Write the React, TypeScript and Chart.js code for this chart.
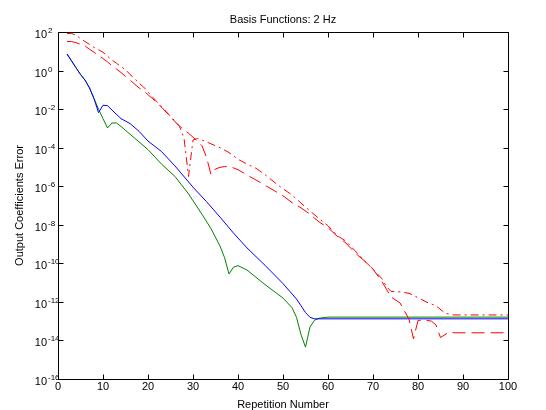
import React, { useEffect, useRef } from "react";
import { Chart, registerables } from "chart.js";

Chart.register(...registerables);

// ---------- data ----------
const TITLE = "Basis Functions: 2 Hz";
const X_LABEL = "Repetition Number";
const Y_LABEL = "Output Coefficients Error";

const X_TICKS = [0, 10, 20, 30, 40, 50, 60, 70, 80, 90, 100];
const Y_TICK_VALUES = [1e2, 1e0, 1e-2, 1e-4, 1e-6, 1e-8, 1e-10, 1e-12, 1e-14, 1e-16];
const Y_TICK_EXPONENTS = ["2", "0", "-2", "-4", "-6", "-8", "-10", "-12", "-14", "-16"];

// red dash-dot series
const redDashDotX = [2, 3, 4, 5, 6, 7, 8, 9, 10, 11, 12, 13, 14, 15, 16, 17, 18, 19, 20, 21, 22, 23, 24, 25, 26, 27, 28, 29, 30, 31, 32, 34, 36, 38, 40, 42, 44, 46, 48, 50, 52, 54, 56, 58, 60, 62, 64, 66, 68, 70, 72, 73, 74, 76, 78, 80, 82, 84, 86, 88, 100];
const redDashDotY = [83, 83, 71, 45, 32, 23, 15.8, 12, 8.9, 5.6, 3.5, 2.4, 1.58, 1.12, 0.63, 0.4, 0.224, 0.141, 0.079, 0.042, 0.024, 0.0132, 0.0076, 0.0042, 0.0024, 0.00126, 3.2e-4, 3.2e-6, 2.5e-4, 3.0e-4, 2.5e-4, 1.58e-4, 1.0e-4, 5.6e-5, 2.5e-5, 1.41e-5, 8.5e-6, 4.0e-6, 1.66e-6, 7.4e-7, 3.5e-7, 1.32e-7, 5.2e-8, 2.1e-8, 8.9e-9, 2.8e-9, 1.41e-9, 4.5e-10, 1.41e-10, 5.0e-11, 1.58e-11, 6.3e-12, 3.5e-12, 3.3e-12, 2.8e-12, 1.66e-12, 9.5e-13, 6.3e-13, 2.6e-13, 2.1e-13, 2.1e-13];

// red dashed series
const redDashedX = [2, 3, 4, 5, 6, 7, 8, 9, 10, 11, 12, 13, 14, 15, 16, 17, 18, 19, 20, 21, 22, 23, 24, 25, 26, 27, 28, 29, 30, 31, 32, 33, 34, 35, 36, 37, 38, 39, 40, 42, 44, 46, 48, 50, 52, 54, 56, 58, 60, 62, 64, 66, 68, 70, 72, 74, 76, 78, 79, 80, 82, 83, 84, 85, 86, 87, 88, 100];
const redDashedY = [32, 32, 28, 23, 19, 12.6, 8.9, 6.0, 4.2, 2.8, 1.78, 1.2, 0.79, 0.5, 0.32, 0.2, 0.126, 0.089, 0.056, 0.035, 0.022, 0.0126, 0.0071, 0.004, 0.0022, 0.00132, 8.3e-4, 5.6e-4, 3.5e-4, 2.2e-4, 1.26e-4, 3.2e-5, 4.0e-6, 7.9e-6, 9.5e-6, 1.05e-5, 1.05e-5, 8.9e-6, 7.2e-6, 3.8e-6, 2.1e-6, 1.12e-6, 6.0e-7, 3.2e-7, 1.41e-7, 7.6e-8, 3.5e-8, 1.41e-8, 7.1e-9, 2.6e-9, 1.12e-9, 3.5e-10, 1.41e-10, 5.0e-11, 1.12e-11, 1.78e-12, 8.9e-13, 1.26e-13, 1.2e-14, 1.1e-13, 1.1e-13, 1.0e-13, 6.3e-14, 1.41e-14, 2.0e-14, 2.8e-14, 2.5e-14, 2.5e-14];

// blue series
const blueX = [2, 3, 4, 5, 6, 7, 8, 9, 10, 11, 12, 14, 16, 18, 20, 23, 26, 30, 33, 36, 39, 42, 46, 50, 53, 54, 55, 56, 57, 100];
const blueY = [7.2, 3.2, 1.4, 0.63, 0.32, 0.126, 0.035, 0.0066, 0.0158, 0.0151, 0.0089, 0.0032, 0.00178, 7.1e-4, 2.2e-4, 6.3e-5, 1.12e-5, 8.9e-7, 1.58e-7, 2.5e-8, 3.7e-9, 6.3e-10, 7.9e-11, 8.9e-12, 1.41e-12, 6.3e-13, 2.8e-13, 1.58e-13, 1.32e-13, 1.32e-13];

// green series
const greenX = [2, 3, 4, 5, 6, 7, 8, 9, 10, 11, 12, 13, 14, 16, 18, 20, 23, 26, 29, 32, 34, 36, 37, 38, 39, 40, 42, 46, 50, 52, 53, 54, 55, 56, 57, 58, 60, 100];
const greenY = [7.2, 3.2, 1.4, 0.63, 0.32, 0.126, 0.035, 0.01, 0.0032, 0.00105, 0.0019, 0.0019, 0.00126, 5.0e-4, 2.0e-4, 7.9e-5, 1.41e-5, 3.2e-6, 4.0e-7, 3.5e-8, 6.3e-9, 7.9e-10, 2.0e-10, 2.8e-11, 6.3e-11, 7.6e-11, 4.5e-11, 7.9e-12, 1.58e-12, 5.0e-13, 1.58e-13, 2.0e-14, 4.5e-15, 5.0e-14, 1.12e-13, 1.41e-13, 1.62e-13, 1.62e-13];

// ---------- helpers ----------
const FONT = '"Liberation Sans", Arial, Helvetica, sans-serif';
const pts = (xs: number[], ys: number[]) => xs.map((x, i) => ({ x, y: ys[i] }));

const matlabAxes = {
  id: "matlabAxes",
  afterDraw(chart: any) {
    const { ctx, chartArea, scales } = chart;
    const { left, right, top, bottom } = chartArea;
    const xs = scales.x;
    const ys = scales.y;
    const L = Math.round(left) + 0.5;
    const R = Math.round(right) + 0.5;
    const T = Math.round(top) + 0.5;
    const B = Math.round(bottom) + 0.5;
    ctx.save();
    ctx.strokeStyle = "#000";
    ctx.lineWidth = 1;
    ctx.beginPath();
    ctx.moveTo(L, T);
    ctx.lineTo(R, T);
    ctx.lineTo(R, B);
    ctx.lineTo(L, B);
    ctx.closePath();
    ctx.stroke();

    const tl = 5;
    ctx.beginPath();
    X_TICKS.forEach((v) => {
      const px = Math.round(xs.getPixelForValue(v)) + 0.5;
      ctx.moveTo(px, B);
      ctx.lineTo(px, B - tl);
      ctx.moveTo(px, T);
      ctx.lineTo(px, T + tl);
    });
    Y_TICK_VALUES.forEach((v) => {
      const py = Math.round(ys.getPixelForValue(v)) + 0.5;
      ctx.moveTo(L, py);
      ctx.lineTo(L + tl, py);
      ctx.moveTo(R, py);
      ctx.lineTo(R - tl, py);
    });
    ctx.stroke();

    ctx.fillStyle = "#000";
    // x tick labels
    ctx.font = `11px ${FONT}`;
    ctx.textAlign = "center";
    ctx.textBaseline = "alphabetic";
    X_TICKS.forEach((v) => {
      const px = xs.getPixelForValue(v);
      ctx.fillText(String(v), px, bottom + 11);
    });
    // y tick labels: 10 with superscript exponent
    Y_TICK_VALUES.forEach((v, i) => {
      const py = Math.round(ys.getPixelForValue(v));
      ctx.font = `11px ${FONT}`;
      ctx.textAlign = "right";
      ctx.fillText("10", left - 11, py + 6);
      ctx.font = `8px ${FONT}`;
      ctx.textAlign = "left";
      ctx.fillText(Y_TICK_EXPONENTS[i], left - 10, py + 0.5);
    });

    // title
    ctx.font = `11px ${FONT}`;
    ctx.textAlign = "center";
    ctx.fillText(TITLE, (left + right) / 2, 23);
    // x label
    ctx.fillText(X_LABEL, (left + right) / 2, 408);
    // y label
    ctx.save();
    ctx.translate(23, (top + bottom) / 2);
    ctx.rotate(-Math.PI / 2);
    ctx.fillText(Y_LABEL, 0, 0);
    ctx.restore();
    ctx.restore();
  },
};

export default function App() {
  const ref = useRef<HTMLCanvasElement>(null);
  useEffect(() => {
    if (!ref.current) return;
    const common = {
      pointRadius: 0,
      borderWidth: 1,
      tension: 0,
      fill: false,
    };
    const chart = new Chart(ref.current, {
      type: "line",
      data: {
        datasets: [
          { ...common, data: pts(redDashDotX, redDashDotY), borderColor: "#ff0000", borderDash: [8, 4, 2, 4] },
          { ...common, data: pts(redDashedX, redDashedY), borderColor: "#ff0000", borderDash: [13, 6] },
          { ...common, data: pts(blueX, blueY), borderColor: "#0000ff" },
          { ...common, data: pts(greenX, greenY), borderColor: "#008000" },
        ],
      },
      options: {
        animation: false,
        responsive: false,
        devicePixelRatio: 1,
        layout: { padding: { left: 58, right: 38, top: 32, bottom: 31 } },
        scales: {
          x: { type: "linear", min: 0, max: 100, display: false },
          y: { type: "logarithmic", min: 1e-16, max: 1e2, display: false },
        },
        plugins: {
          legend: { display: false },
          tooltip: { enabled: false },
          title: { display: false },
        },
      },
      plugins: [matlabAxes],
    } as any);
    return () => chart.destroy();
  }, []);
  return (
    <div style={{ position: "absolute", left: 0, top: 0, width: 546, height: 410, background: "#fff" }}>
      <canvas ref={ref} width={546} height={410} style={{ display: "block" }} />
    </div>
  );
}
